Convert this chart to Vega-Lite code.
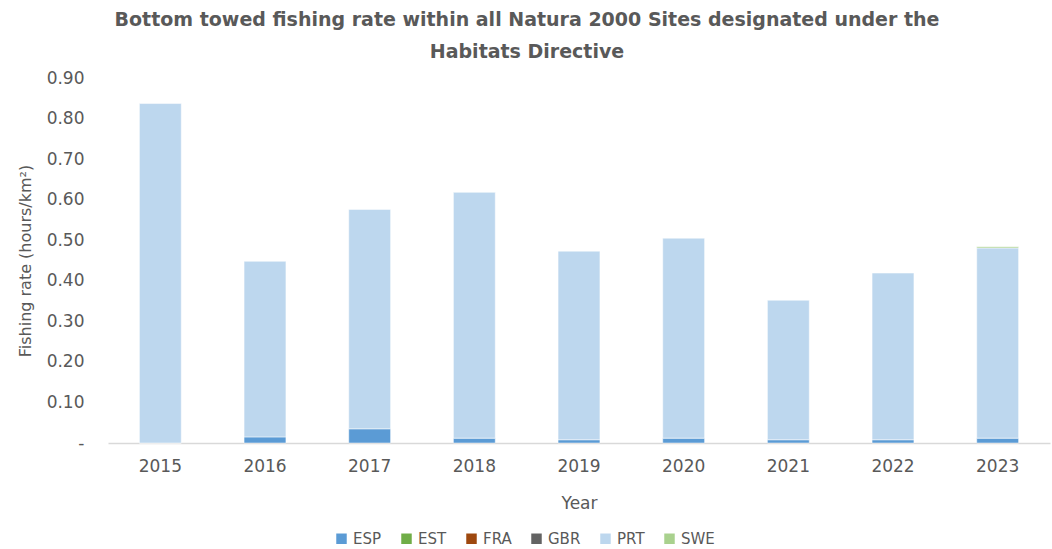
{
  "$schema": "https://vega.github.io/schema/vega-lite/v6.json",
  "width": 942,
  "height": 365,
  "autosize": {"type": "none"},
  "padding": {"left": 108, "top": 78, "right": 2, "bottom": 106},
  "background": "white",
  "config": {"view": {"stroke": null}},
  "title": {
    "text": ["Bottom towed fishing rate within all Natura 2000 Sites designated under the", "Habitats Directive"],
    "font": "DejaVu Sans",
    "fontSize": 19,
    "fontWeight": "bold",
    "color": "#595959",
    "lineHeight": 32,
    "offset": 7,
    "dx": -52,
    "anchor": "middle"
  },
  "data": {
    "values": [
      {"year": "2015", "country": "ESP", "value": 0.0},
      {"year": "2015", "country": "PRT", "value": 0.837},
      {"year": "2016", "country": "ESP", "value": 0.015},
      {"year": "2016", "country": "PRT", "value": 0.433},
      {"year": "2017", "country": "ESP", "value": 0.035},
      {"year": "2017", "country": "PRT", "value": 0.541},
      {"year": "2018", "country": "ESP", "value": 0.012},
      {"year": "2018", "country": "PRT", "value": 0.606},
      {"year": "2019", "country": "ESP", "value": 0.008},
      {"year": "2019", "country": "PRT", "value": 0.465},
      {"year": "2020", "country": "ESP", "value": 0.012},
      {"year": "2020", "country": "PRT", "value": 0.493},
      {"year": "2021", "country": "ESP", "value": 0.008},
      {"year": "2021", "country": "PRT", "value": 0.344},
      {"year": "2022", "country": "ESP", "value": 0.008},
      {"year": "2022", "country": "PRT", "value": 0.411},
      {"year": "2023", "country": "ESP", "value": 0.012},
      {"year": "2023", "country": "PRT", "value": 0.469},
      {"year": "2023", "country": "SWE", "value": 0.003}
    ]
  },
  "mark": {"type": "bar", "stroke": "white", "strokeWidth": 0.5},
  "encoding": {
    "x": {
      "field": "year",
      "type": "ordinal",
      "title": "Year",
      "scale": {"paddingInner": 0.6, "paddingOuter": 0.3},
      "axis": {
        "labelAngle": 0,
        "labelFont": "DejaVu Sans",
        "labelFontSize": 17,
        "labelColor": "#595959",
        "labelPadding": 15,
        "ticks": false,
        "domainColor": "#d9d9d9",
        "domainWidth": 1.5,
        "titleFont": "DejaVu Sans",
        "titleFontSize": 17,
        "titleFontWeight": "normal",
        "titleColor": "#595959",
        "titlePadding": 21
      }
    },
    "y": {
      "field": "value",
      "type": "quantitative",
      "stack": "zero",
      "title": "Fishing rate (hours/km²)",
      "scale": {"domain": [0, 0.9]},
      "axis": {
        "values": [0, 0.1, 0.2, 0.3, 0.4, 0.5, 0.6, 0.7, 0.8, 0.9],
        "labelExpr": "datum.value == 0 ? '-' : format(datum.value, '.2f')",
        "labelFont": "DejaVu Sans",
        "labelFontSize": 17,
        "labelColor": "#595959",
        "labelPadding": 24,
        "ticks": false,
        "domain": false,
        "grid": false,
        "titleFont": "DejaVu Sans",
        "titleFontSize": 16,
        "titleFontWeight": "normal",
        "titleColor": "#595959",
        "titlePadding": 13
      }
    },
    "color": {
      "field": "country",
      "type": "nominal",
      "scale": {
        "domain": ["ESP", "EST", "FRA", "GBR", "PRT", "SWE"],
        "range": ["#5b9bd5", "#70ad47", "#9e480e", "#636363", "#bdd7ee", "#a9d18e"]
      },
      "legend": {
        "title": null,
        "orient": "none",
        "direction": "horizontal",
        "legendX": 226,
        "legendY": 453,
        "symbolType": "square",
        "symbolSize": 110,
        "symbolStrokeWidth": 0,
        "labelFont": "DejaVu Sans",
        "labelFontSize": 15,
        "labelColor": "#595959",
        "columnPadding": 17
      }
    },
    "order": {"field": "country", "type": "nominal", "sort": "ascending"}
  }
}
